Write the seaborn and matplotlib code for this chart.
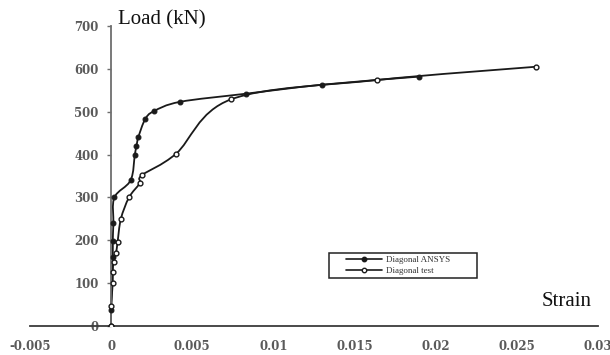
import numpy as np
import pandas as pd
import seaborn as sns
import matplotlib
matplotlib.use("Agg")
import matplotlib.pyplot as plt
from matplotlib.path import Path
from matplotlib.patches import PathPatch, Rectangle
from matplotlib.lines import Line2D

# ---- data ----
ansys_strain = [0.0, 0.0, 0.0001, 0.0001, 0.00014, 0.0002, 0.0012, 0.00146, 0.00156,
                0.00168, 0.00209, 0.00262, 0.00424, 0.0083, 0.013, 0.019]
ansys_load = [0, 37, 160, 198, 240, 300, 340, 400, 420, 441, 482, 501, 523, 542, 563, 582]

test_strain = [0.0, 0.0, 0.0001, 0.0001, 0.00015, 0.0003, 0.0004, 0.0006, 0.0011,
               0.00176, 0.0019, 0.004, 0.0074, 0.0164, 0.0262]
test_load = [0, 47, 100, 127, 150, 170, 197, 250, 300, 333, 352, 402, 529, 574, 605]

series_names = ["Diagonal ANSYS", "Diagonal test"]
x_ticks = [-0.005, 0, 0.005, 0.01, 0.015, 0.02, 0.025, 0.03]
x_tick_labels = ["-0.005", "0", "0.005", "0.01", "0.015", "0.02", "0.025", "0.03"]
y_ticks = [0, 100, 200, 300, 400, 500, 600, 700]

df = pd.concat([
    pd.DataFrame({"strain": ansys_strain, "load": ansys_load, "series": series_names[0]}),
    pd.DataFrame({"strain": test_strain, "load": test_load, "series": series_names[1]}),
], ignore_index=True)

sns.set_theme(style="white")
plt.rcParams["font.family"] = ["Liberation Serif", "DejaVu Serif"]

fig = plt.figure(figsize=(6.10, 3.55), dpi=100)
ax = fig.add_axes([30 / 610, 29 / 355, 568 / 610, 300 / 355])

line_col = "#1a1a1a"


def smooth_path(xs, ys):
    pts = np.column_stack([xs, ys]).astype(float)
    n = len(pts)
    verts = [pts[0]]
    codes = [Path.MOVETO]
    for i in range(n - 1):
        p0 = pts[i - 1] if i > 0 else pts[i]
        p1 = pts[i]
        p2 = pts[i + 1]
        p3 = pts[i + 2] if i + 2 < n else pts[i + 1]
        c1 = p1 + (p2 - p0) / 6.0
        c2 = p2 - (p3 - p1) / 6.0
        verts += [c1, c2, p2]
        codes += [Path.CURVE4] * 3
    return Path(verts, codes)


for name in series_names:
    sub = df[df["series"] == name]
    patch = PathPatch(smooth_path(sub["strain"].values, sub["load"].values),
                      facecolor="none", edgecolor=line_col, lw=1.3, zorder=2)
    ax.add_patch(patch)

sns.scatterplot(data=df[df["series"] == series_names[0]], x="strain", y="load",
                marker="o", s=12, color=line_col, edgecolor=line_col, linewidth=0.8,
                ax=ax, zorder=3, legend=False)
sns.scatterplot(data=df[df["series"] == series_names[1]], x="strain", y="load",
                marker="o", s=12, facecolor="white", edgecolor=line_col, linewidth=1.0,
                ax=ax, zorder=3, legend=False)

ax.set_xlim(-0.005, 0.03)
ax.set_ylim(0, 700)
ax.set_xticks(x_ticks)
ax.set_xticklabels(x_tick_labels)
ax.set_yticks(y_ticks)
ax.set_xlabel("")
ax.set_ylabel("")

for s in ["top", "right"]:
    ax.spines[s].set_visible(False)
ax.spines["left"].set_position(("data", 0))
ax.spines["left"].set_color("#6e6e6e")
ax.spines["left"].set_linewidth(1.3)
ax.spines["bottom"].set_color("#3a3a3a")
ax.spines["bottom"].set_linewidth(1.3)

ax.tick_params(axis="x", direction="in", length=3, width=1, color="#3a3a3a", pad=10,
               labelsize=8.5, labelcolor="#5a5a5a")
ax.tick_params(axis="y", direction="out", length=3, width=1, color="#6e6e6e", pad=6,
               labelsize=8.5, labelcolor="#5a5a5a", left=True)
for lab in ax.get_xticklabels() + ax.get_yticklabels():
    lab.set_fontweight("bold")
    lab.set_fontfamily("DejaVu Serif")

ax.text(118 / 610, 1 - 20 / 355, "Load (kN)", transform=fig.transFigure,
        fontsize=15, color="#111111", va="center", ha="left")
ax.text(592 / 610, 1 - 302 / 355, "Strain", transform=fig.transFigure,
        fontsize=15, color="#111111", va="center", ha="right")

# legend: frame drawn as its own rectangle, entries inside
fx0, fx1 = (329 - 30) / 568, (477 - 30) / 568
fy0, fy1 = (326 - 278) / 300, (326 - 253) / 300
ax.add_patch(Rectangle((fx0, fy0), fx1 - fx0, fy1 - fy0, transform=ax.transAxes,
                       facecolor="white", edgecolor="#222222", lw=1.1, zorder=5))
handles = [
    Line2D([], [], color=line_col, lw=1.2, marker="o", markersize=3.2,
           markerfacecolor=line_col, markeredgecolor=line_col),
    Line2D([], [], color=line_col, lw=1.2, marker="o", markersize=3.2,
           markerfacecolor="white", markeredgecolor=line_col),
]
leg = ax.legend(handles, series_names, loc="center left",
                bbox_to_anchor=((346 - 30) / 568, (fy0 + fy1) / 2),
                bbox_transform=ax.transAxes, borderaxespad=0, fontsize=6.5,
                frameon=False, handlelength=4.0, handletextpad=0.4,
                labelspacing=0.35, borderpad=0)
leg.set_zorder(6)
for t in leg.get_texts():
    t.set_color("#333333")

fig.savefig("out.png", dpi=100, facecolor="white")
